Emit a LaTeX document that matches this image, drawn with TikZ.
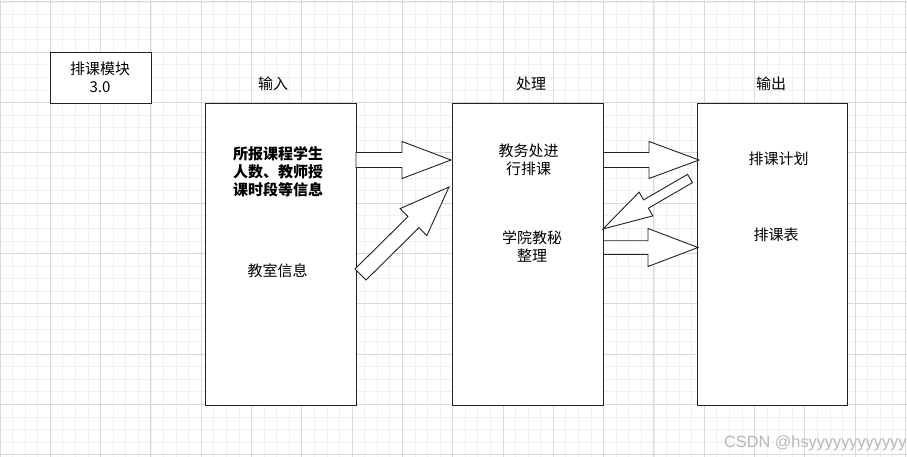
\documentclass[tikz,border=0pt]{standalone}
\usepackage{fontspec}
\setmainfont{Noto Sans CJK SC}
\newfontfamily\wmfont{Liberation Sans}
\usetikzlibrary{calc}

\definecolor{gridminor}{HTML}{F0F0F0}
\definecolor{gridmajor}{HTML}{DADADA}
\definecolor{edge}{HTML}{222222}

\tikzset{
  box/.style={draw=edge, line width=1pt, fill=white, inner sep=0pt},
  lbl/.style={font=\fontsize{15}{18}\selectfont, align=center, inner sep=0pt},
  barrow/.style={draw=edge, line width=0.9pt, fill=white, line join=miter},
  minorline/.style={draw=gridminor, line width=0.8pt},
  majorline/.style={draw=gridmajor, line width=1pt},
}

% block arrow: tail, tip, shaft half width, head half width, head length, name
\newcommand\blockarrow[6]{%
  \coordinate (#6-h) at ($(#2)!#5!(#1)$);
  \draw[barrow]
    ($(#1)!#3!-90:(#2)$) -- ($(#6-h)!#3!90:(#1)$) -- ($(#6-h)!#4!90:(#1)$)
    -- (#2) -- ($(#6-h)!#4!-90:(#1)$) -- ($(#6-h)!#3!-90:(#1)$)
    -- ($(#1)!#3!90:(#2)$) -- cycle;
}

\begin{document}
\begin{tikzpicture}[x=1pt,y=-1pt]
\useasboundingbox (0,0) rectangle (907,457);
\fill[white] (0,0) rectangle (907,457);

% background grid
\foreach \i in {0,...,72} \draw[minorline] ({\i*12.575},0) -- ({\i*12.575},457);
\foreach \j in {0,...,36} \draw[minorline] (0,{2+\j*12.575}) -- (907,{2+\j*12.575});
\foreach \i in {0,...,18} \draw[majorline] ({\i*50.3},0) -- ({\i*50.3},457);
\foreach \j in {0,...,9} \draw[majorline] (0,{2+\j*50.3}) -- (907,{2+\j*50.3});

% boxes
\node[box, anchor=north west, minimum width=101pt, minimum height=50.5pt] (module) at (50,52.5) {};
\node[box, anchor=north west, minimum width=151pt, minimum height=301.5pt] (input) at (205,103) {};
\node[box, anchor=north west, minimum width=151pt, minimum height=301.5pt] (process) at (452,103) {};
\node[box, anchor=north west, minimum width=150pt, minimum height=301.5pt] (output) at (697,103) {};

% texts
\node[lbl] (moduletext) at (100,77.5) {排课模块\\3.0};
\node[lbl] (inhead) at (273,84) {输入};
\node[lbl] (prochead) at (531,84) {处理};
\node[lbl] (outhead) at (771,84) {输出};

\node[lbl, font=\fontsize{15}{18}\selectfont\bfseries] (info) at (278,172) {所报课程学生\\人数、教师授\\课时段等信息};
\node[lbl] (room) at (277.5,271) {教室信息};

\node[lbl] (dean) at (528.5,159.5) {教务处进\\行排课};
\node[lbl] (secretary) at (532,247) {学院教秘\\整理};

\node[lbl] (plan) at (778.5,159) {排课计划};
\node[lbl] (table) at (776,235) {排课表};

% connectors
\coordinate (a1t) at (356,160);    \coordinate (a1p) at (451,160);
\coordinate (a2t) at (360.5,274.5); \coordinate (a2p) at (449,187);
\coordinate (a3t) at (603.5,160);  \coordinate (a3p) at (699,160);
\coordinate (a4t) at (690,178.5);  \coordinate (a4p) at (603,229);
\coordinate (a5t) at (603.5,247.5); \coordinate (a5p) at (698,247.5);

\blockarrow{a1t}{a1p}{7.5pt}{18.5pt}{49pt}{a1}
\blockarrow{a2t}{a2p}{7.8pt}{19pt}{50pt}{a2}
\blockarrow{a3t}{a3p}{7.5pt}{18.5pt}{50pt}{a3}
\blockarrow{a4t}{a4p}{4.8pt}{13.7pt}{49.7pt}{a4}
\blockarrow{a5t}{a5p}{6.8pt}{19pt}{50pt}{a5}

% watermark
\node[anchor=west, inner sep=0pt, text=black!28, font=\wmfont\fontsize{16.3}{18}\selectfont] (mark) at (724,443) {CSDN @hsyyyyyyyyyyyy};
\end{tikzpicture}
\end{document}
